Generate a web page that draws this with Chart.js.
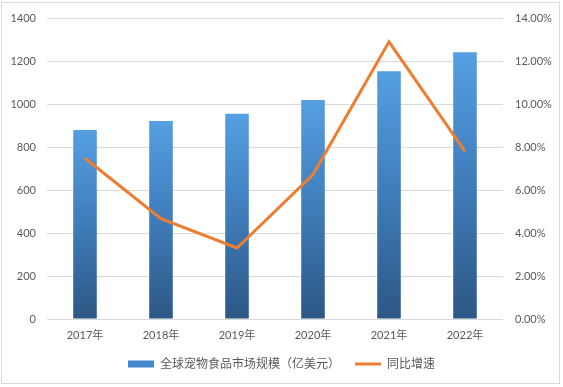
<!DOCTYPE html>
<html>
<head>
<meta charset="utf-8">
<script src="https://cdn.jsdelivr.net/npm/chart.js@4"></script>
<style>
  html, body { margin: 0; padding: 0; background: #fff; }
  #frame { position: absolute; left: 1px; top: 2px; width: 559px; height: 382px; box-sizing: border-box; border: 1px solid #d9d9d9; }
  #wrap { position: absolute; left: 0; top: 0; width: 563px; height: 387px; }
</style>
</head>
<body>
<div id="frame"></div>
<div id="wrap"><canvas id="c" width="563" height="387"></canvas></div>
<script>
const years = ['2017年', '2018年', '2019年', '2020年', '2021年', '2022年'];
const marketSize = [881, 923, 956, 1021, 1155, 1243];
const growthRate = [7.49, 4.68, 3.31, 6.73, 12.92, 7.81];
const leftTicks = [0, 200, 400, 600, 800, 1000, 1200, 1400];
const rightTicks = [0, 2, 4, 6, 8, 10, 12, 14];
const barLabel = '全球宠物食品市场规模（亿美元）';
const lineLabel = '同比增速';

const FONT = "Lato, 'Noto Sans CJK SC', sans-serif";
const TXT = '#595959';

function barFill(ctx) {
  const fallback = '#4388cc';
  if (ctx.type !== 'data') return fallback;
  const chart = ctx.chart;
  const ys = chart.scales && chart.scales.y;
  if (!ys || !chart.chartArea) return fallback;
  const top = ys.getPixelForValue(ctx.parsed.y);
  const bottom = ys.getPixelForValue(0);
  if (!isFinite(top) || !isFinite(bottom) || top === bottom) return fallback;
  const g = chart.ctx.createLinearGradient(0, top, 0, bottom);
  g.addColorStop(0, '#559fe2');
  g.addColorStop(0.5, '#3f7cb9');
  g.addColorStop(1, '#2d5784');
  return g;
}

new Chart(document.getElementById('c'), {
  data: {
    labels: years,
    datasets: [
      {
        type: 'bar',
        label: barLabel,
        data: marketSize,
        yAxisID: 'y',
        backgroundColor: barFill,
        borderWidth: 0,
        categoryPercentage: 1,
        barPercentage: 0.31,
        order: 2
      },
      {
        type: 'line',
        label: lineLabel,
        data: growthRate,
        yAxisID: 'y1',
        borderColor: '#ed7d31',
        backgroundColor: '#ed7d31',
        borderWidth: 3,
        pointRadius: 0,
        tension: 0,
        order: 1
      }
    ]
  },
  options: {
    responsive: false,
    animation: false,
    devicePixelRatio: 1,
    layout: { padding: { left: 0, right: 0, top: 12, bottom: 7 } },
    plugins: {
      tooltip: { enabled: false },
      legend: {
        position: 'bottom',
        labels: {
          usePointStyle: true,
          pointStyleWidth: 26,
          boxHeight: 7,
          padding: 15,
          color: TXT,
          font: { family: FONT, size: 12 },
          generateLabels: function () {
            return [
              { text: barLabel, fillStyle: '#4388cc', strokeStyle: '#4388cc', lineWidth: 0, pointStyle: 'rect', datasetIndex: 0, fontColor: TXT },
              { text: lineLabel, fillStyle: '#ed7d31', strokeStyle: '#ed7d31', lineWidth: 3, pointStyle: 'line', datasetIndex: 1, fontColor: TXT }
            ];
          }
        }
      }
    },
    scales: {
      x: {
        grid: { display: false, drawTicks: false },
        border: { display: false },
        ticks: { color: TXT, font: { family: FONT, size: 11 }, padding: 10 },
        afterFit: function (s) { s.height = 24; }
      },
      y: {
        position: 'left',
        min: 0,
        max: 1400,
        afterBuildTicks: function (s) { s.ticks = leftTicks.map(v => ({ value: v })); },
        grid: { color: '#d9d9d9', lineWidth: 1, drawTicks: false },
        border: { display: false },
        ticks: {
          color: TXT,
          font: { family: FONT, size: 11 },
          padding: 11,
          callback: function (v) { return String(v); }
        },
        afterFit: function (s) { s.width = 47; }
      },
      y1: {
        position: 'right',
        min: 0,
        max: 14,
        afterBuildTicks: function (s) { s.ticks = rightTicks.map(v => ({ value: v })); },
        grid: { drawOnChartArea: false, drawTicks: false },
        border: { display: false },
        ticks: {
          color: TXT,
          font: { family: FONT, size: 11 },
          padding: 12,
          callback: function (v) { return Number(v).toFixed(2) + '%'; }
        },
        afterFit: function (s) { s.width = 60; }
      }
    }
  }
});
</script>
</body>
</html>
